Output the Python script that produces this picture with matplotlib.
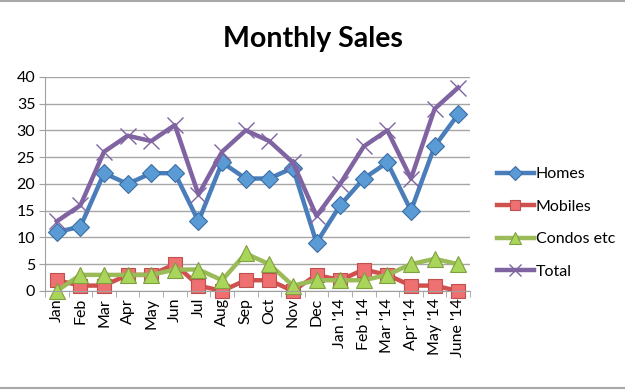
import matplotlib
matplotlib.use("Agg")
import matplotlib.pyplot as plt
from matplotlib.lines import Line2D

plt.rcParams['font.family'] = ['Lato', 'DejaVu Sans']

months = ["Jan", "Feb", "Mar", "Apr", "May", "Jun", "Jul", "Aug", "Sep", "Oct",
          "Nov", "Dec", "Jan '14", "Feb '14", "Mar '14", "Apr '14", "May '14", "June '14"]
homes = [11, 12, 22, 20, 22, 22, 13, 24, 21, 21, 23, 9, 16, 21, 24, 15, 27, 33]
mobiles = [2, 1, 1, 3, 3, 5, 1, 0, 2, 2, 0, 3, 2, 4, 3, 1, 1, 0]
condos = [0, 3, 3, 3, 3, 4, 4, 2, 7, 5, 1, 2, 2, 2, 3, 5, 6, 5]
total = [13, 16, 26, 29, 28, 31, 18, 26, 30, 28, 24, 14, 20, 27, 30, 21, 34, 38]
series_names = ["Homes", "Mobiles", "Condos etc", "Total"]

fig = plt.figure(figsize=(6.25, 3.9), dpi=100)
ax = fig.add_axes([0.072, 0.254, 0.68, 0.549])

x = [i + 0.5 for i in range(len(months))]

styles = [
    dict(color="#4A7EBB", marker="D", markersize=9, markerfacecolor="#5B9BD5", markeredgecolor="#3A6EA5", markeredgewidth=0.8),
    dict(color="#D0504D", marker="s", markersize=10, markerfacecolor="#EE7070", markeredgecolor="#C0504D", markeredgewidth=0.8),
    dict(color="#9BBB59", marker="^", markersize=11, markerfacecolor="#A9D65A", markeredgecolor="#7F9F40", markeredgewidth=0.8),
    dict(color="#8064A2", marker="x", markersize=11, markeredgecolor="#8064A2", markeredgewidth=1.0),
]
data = [homes, mobiles, condos, total]
handles = []
for vals, name, st in zip(data, series_names, styles):
    h, = ax.plot(x, vals, linewidth=3.2, label=name, clip_on=False, **st)
    handles.append(h)

ax.set_xlim(0, len(months))
ax.set_ylim(0, 40)
ax.set_yticks(range(0, 41, 5))
ax.set_xticks(x)
ax.set_xticklabels(months, rotation=90, fontsize=11.5)
ax.tick_params(axis='x', length=0, pad=5)
ax.set_xticks(range(0, len(months) + 1), minor=True)
ax.tick_params(axis='x', which='minor', length=4, color="#A0A0A0", direction='out')
ax.tick_params(axis='y', labelsize=11.5, length=4, color="#A0A0A0", pad=3)
ax.grid(axis='y', color="#A6A6A6", linewidth=1.0)
ax.set_axisbelow(True)
for s in ["top", "right"]:
    ax.spines[s].set_visible(False)
ax.spines["left"].set_color("#A0A0A0")
ax.spines["bottom"].set_color("#A0A0A0")

fig.text(0.5, 0.9, "Monthly Sales", ha="center", va="center", fontsize=20.5, fontweight="bold")

leg = fig.legend(handles=handles, loc="center left", bbox_to_anchor=(0.795, 0.428),
                 frameon=False, fontsize=11.5, handlelength=2.3, handletextpad=0.12,
                 labelspacing=1.15, markerscale=0.75, borderpad=0, borderaxespad=0)

for yy in (0.997, 0.005):
    fig.add_artist(Line2D([0, 1], [yy, yy], transform=fig.transFigure, color="#A8A8A8", linewidth=1.5))

fig.savefig("out.png", dpi=100)
